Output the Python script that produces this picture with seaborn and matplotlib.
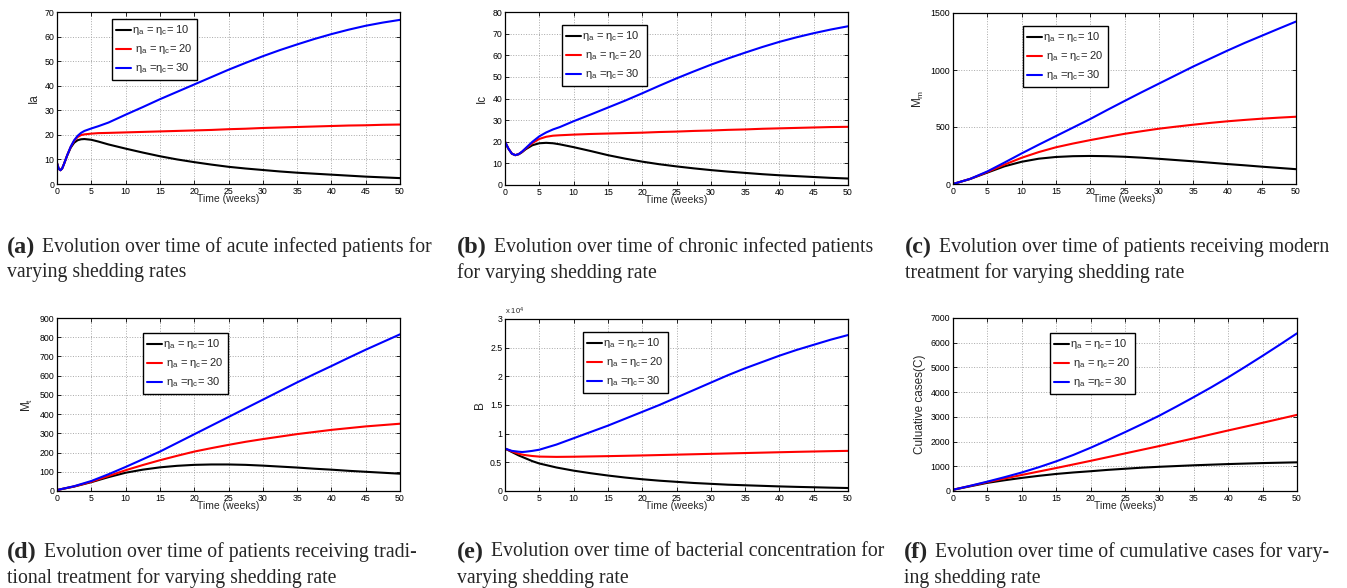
import matplotlib
matplotlib.use("Agg")
import matplotlib.pyplot as plt
import numpy as np
import pandas as pd
import seaborn as sns

sns.set_style("ticks")
plt.rcParams['font.family'] = ['Liberation Sans', 'DejaVu Sans']
plt.rcParams['mathtext.fontset'] = 'custom'
plt.rcParams['mathtext.rm'] = 'Liberation Sans'
plt.rcParams['mathtext.it'] = 'Liberation Sans:italic'
plt.rcParams['mathtext.default'] = 'regular'

# ---------------- data ----------------
labels = ['η$_a$ = η$_c$= 10', ' η$_a$ = η$_c$= 20', ' η$_a$ =η$_c$= 30']
colors = ['#000000', '#ff0000', '#0000ff']

# (a) acute infected patients Ia
t_a = [0, 0.25, 0.5, 0.75, 1, 1.5, 2, 2.5, 3, 3.5, 4, 5, 6, 7.5, 10, 12.5, 15, 17.5, 20,
       22.5, 25, 27.5, 30, 32.5, 35, 37.5, 40, 42.5, 45, 47.5, 50]
ia_10 = [8.5, 6.2, 5.6, 6.3, 8, 11.7, 14.8, 16.8, 17.8, 18.2, 18.3, 18.0, 17.3, 16.1, 14.4,
         12.8, 11.3, 10.0, 8.9, 7.9, 7.0, 6.3, 5.7, 5.1, 4.6, 4.2, 3.8, 3.4, 3.0, 2.7, 2.4]
ia_20 = [8.5, 6.2, 5.6, 6.3, 8, 11.8, 15.1, 17.6, 19.1, 19.9, 20.2, 20.5, 20.7, 20.8, 21.0,
         21.2, 21.4, 21.6, 21.8, 22.0, 22.3, 22.5, 22.8, 23.0, 23.2, 23.4, 23.6, 23.8, 23.9, 24.1, 24.2]
ia_30 = [8.5, 6.2, 5.6, 6.3, 8, 11.8, 15.2, 17.8, 19.6, 20.8, 21.6, 22.6, 23.5, 25.0, 28.2,
         31.3, 34.5, 37.5, 40.5, 43.5, 46.5, 49.3, 52.0, 54.5, 56.8, 59.0, 61.0, 62.8, 64.4, 65.7, 66.8]

# (b) chronic infected patients Ic
t_b = [0, 0.5, 1, 1.5, 2, 2.5, 3, 4, 5, 6, 7, 8, 10, 12.5, 15, 17.5, 20, 22.5, 25, 27.5,
       30, 32.5, 35, 37.5, 40, 42.5, 45, 47.5, 50]
ic_10 = [20, 16.8, 14.5, 13.8, 14.2, 15.2, 16.5, 18.4, 19.3, 19.5, 19.3, 18.8, 17.5, 15.7,
         13.8, 12.2, 10.8, 9.6, 8.6, 7.7, 6.9, 6.2, 5.6, 5.0, 4.5, 4.1, 3.7, 3.3, 3.0]
ic_20 = [20, 16.8, 14.5, 13.8, 14.3, 15.4, 16.8, 19.4, 21.3, 22.3, 22.8, 23.0, 23.3, 23.6,
         23.8, 24.0, 24.2, 24.5, 24.7, 25.0, 25.2, 25.5, 25.7, 26.0, 26.2, 26.4, 26.6, 26.8, 26.9]
ic_30 = [20, 16.8, 14.5, 13.8, 14.3, 15.5, 17.0, 20.0, 22.5, 24.3, 25.7, 26.8, 29.5, 32.6,
         35.8, 39.0, 42.4, 45.9, 49.3, 52.5, 55.6, 58.5, 61.2, 63.8, 66.2, 68.3, 70.2, 71.9, 73.4]

# weekly grid used by panels (c), (d), (f)
t_w = [0, 2.5, 5, 7.5, 10, 12.5, 15, 17.5, 20, 22.5, 25, 27.5, 30, 32.5, 35, 37.5, 40,
       42.5, 45, 47.5, 50]

# (c) modern treatment Mm
mm_10 = [0, 44, 100, 155, 195, 222, 237, 244, 246, 244, 239, 231, 221, 210, 199, 187, 175,
         164, 152, 141, 130]
mm_20 = [0, 45, 105, 170, 230, 280, 322, 355, 385, 413, 440, 463, 485, 503, 520, 536, 550,
         562, 573, 582, 590]
mm_30 = [0, 45, 110, 188, 268, 345, 420, 495, 570, 650, 728, 805, 880, 955, 1030, 1100,
         1170, 1237, 1300, 1363, 1425]

# (d) traditional treatment Mt
mt_10 = [5, 23, 46, 72, 95, 111, 123, 131, 136, 138, 138, 136, 132, 127, 122, 116, 111,
         105, 100, 95, 90]
mt_20 = [5, 24, 48, 78, 108, 135, 160, 183, 205, 223, 240, 256, 270, 283, 296, 307, 318,
         327, 336, 343, 350]
mt_30 = [5, 25, 52, 87, 125, 165, 205, 250, 295, 340, 385, 430, 475, 520, 565, 608, 650,
         693, 735, 775, 815]

# (e) bacterial concentration B
t_e = [0, 1, 2, 2.5, 3, 4, 5, 7.5, 10, 12.5, 15, 17.5, 20, 22.5, 25, 27.5, 30, 32.5, 35,
       37.5, 40, 42.5, 45, 47.5, 50]
b_10 = [7400, 6800, 6200, 5950, 5700, 5200, 4800, 4100, 3550, 3100, 2700, 2350, 2050, 1800,
        1600, 1400, 1250, 1100, 1000, 900, 800, 720, 650, 580, 520]
b_20 = [7400, 6900, 6500, 6350, 6250, 6100, 6000, 5950, 5980, 6030, 6080, 6140, 6200, 6270,
        6340, 6410, 6480, 6550, 6620, 6690, 6760, 6830, 6890, 6950, 7000]
b_30 = [7400, 7000, 6850, 6800, 6850, 7000, 7200, 8100, 9200, 10300, 11400, 12600, 13800,
        15000, 16300, 17600, 18900, 20200, 21400, 22500, 23600, 24600, 25500, 26400, 27200]

# (f) cumulative cases C
c_10 = [50, 190, 330, 435, 530, 615, 690, 750, 800, 855, 900, 945, 980, 1010, 1040, 1065,
        1090, 1110, 1130, 1145, 1160]
c_20 = [50, 205, 360, 505, 650, 790, 930, 1075, 1220, 1370, 1520, 1670, 1820, 1975, 2130,
        2290, 2450, 2605, 2760, 2920, 3080]
c_30 = [50, 210, 380, 560, 750, 965, 1200, 1460, 1750, 2060, 2380, 2710, 3050, 3420, 3800,
        4190, 4600, 5030, 5470, 5920, 6380]

tags = ['(a)', '(b)', '(c)', '(d)', '(e)', '(f)']
captions = [
    ('Evolution over time of acute infected patients for', 'varying shedding rates'),
    ('Evolution over time of chronic infected patients', 'for varying shedding rate'),
    ('Evolution over time of patients receiving modern', 'treatment for varying shedding rate'),
    ('Evolution over time of patients receiving tradi-', 'tional treatment for varying shedding rate'),
    ('Evolution over time of bacterial concentration for', 'varying shedding rate'),
    ('Evolution over time of cumulative cases for vary-', 'ing shedding rate'),
]
ylabels = ['Ia', 'Ic', 'M$_m$', 'M$_t$', 'B', 'Culuative cases(C)']

# ---------------- layout ----------------
W, H = 1347, 588
fig = plt.figure(figsize=(W / 100, H / 100), dpi=100)

panels = [
    dict(t=t_a, ys=[ia_10, ia_20, ia_30], box=(57, 12, 400, 184), ylim=(0, 70), yt=np.arange(0, 71, 10),
         leg=(112, 19)),
    dict(t=t_b, ys=[ic_10, ic_20, ic_30], box=(505, 12, 848, 185), ylim=(0, 80), yt=np.arange(0, 81, 10),
         leg=(562, 25)),
    dict(t=t_w, ys=[mm_10, mm_20, mm_30], box=(953, 13, 1296, 184), ylim=(0, 1500), yt=np.arange(0, 1501, 500),
         leg=(1023, 26)),
    dict(t=t_w, ys=[mt_10, mt_20, mt_30], box=(57, 318, 400, 491), ylim=(0, 900), yt=np.arange(0, 901, 100),
         leg=(143, 333)),
    dict(t=t_e, ys=[b_10, b_20, b_30], box=(505, 319, 848, 491), ylim=(0, 30000), yt=np.arange(0, 30001, 5000),
         leg=(583, 332)),
    dict(t=t_w, ys=[c_10, c_20, c_30], box=(953, 318, 1297, 491), ylim=(0, 7000), yt=np.arange(0, 7001, 1000),
         leg=(1050, 333)),
]

cap_pos = [(7, 247), (457, 247), (905, 247), (7, 552), (457, 552), (904, 552)]
CAP_FS = 14.2
TAG_FS = 17.5
LINE_GAP = 26

renderer = fig.canvas.get_renderer()

for i, p in enumerate(panels):
    x0, y0, x1, y1 = p['box']
    ax = fig.add_axes([x0 / W, 1 - y1 / H, (x1 - x0) / W, (y1 - y0) / H])
    frames = []
    for lab, ys in zip(labels, p['ys']):
        frames.append(pd.DataFrame({'t': p['t'], 'v': ys, 'rate': lab}))
    df = pd.concat(frames, ignore_index=True)
    sns.lineplot(data=df, x='t', y='v', hue='rate', palette=colors, hue_order=labels,
                 estimator=None, sort=False, linewidth=1.5, ax=ax, legend=True)

    ax.set_xlim(0, 50)
    ax.set_ylim(*p['ylim'])
    ax.set_xticks(np.arange(0, 51, 5))
    ax.set_yticks(p['yt'])
    if i == 4:
        ax.set_yticklabels([f'{v / 1e4:g}' for v in p['yt']])
        ax.text(0.0, 1.01, 'x 10$^4$', transform=ax.transAxes, fontsize=5.5, ha='left', va='bottom')
    ax.grid(True, linestyle=':', color='#a8a8a8', linewidth=0.7)
    ax.set_axisbelow(True)
    ax.tick_params(direction='in', top=True, right=True, length=3, width=0.6,
                   labelsize=6.3, pad=2, colors='#000000')
    for sp in ax.spines.values():
        sp.set_linewidth(0.9)
        sp.set_color('#000000')
    ax.set_xlabel('Time (weeks)', fontsize=7.5, labelpad=-1)
    ax.set_ylabel(ylabels[i], fontsize=8.5, labelpad=3)

    lx, ly = p['leg']
    ax.legend(loc='upper left', bbox_to_anchor=(lx / W, 1 - ly / H), bbox_transform=fig.transFigure,
              fontsize=8, frameon=True, fancybox=False, edgecolor='#000000', framealpha=1,
              handlelength=1.3, handletextpad=0.1, borderpad=0.4, labelspacing=0.45,
              borderaxespad=0)
    ax.get_legend().get_frame().set_linewidth(1.0)

    # caption under the panel: bold tag followed by the text
    cx, cy = cap_pos[i]
    tag = fig.text(cx / W, 1 - cy / H, tags[i], fontfamily='Liberation Serif', fontweight='bold',
                   fontsize=TAG_FS, va='center', ha='left')
    bb = tag.get_window_extent(renderer=renderer)
    fig.text((bb.x1 + 7) / W, 1 - cy / H, captions[i][0], fontfamily='Liberation Serif',
             fontsize=CAP_FS, va='center', ha='left')
    fig.text(cx / W, 1 - (cy + LINE_GAP) / H, captions[i][1], fontfamily='Liberation Serif',
             fontsize=CAP_FS, va='center', ha='left')

fig.savefig('out.png', dpi=100, facecolor='white')
